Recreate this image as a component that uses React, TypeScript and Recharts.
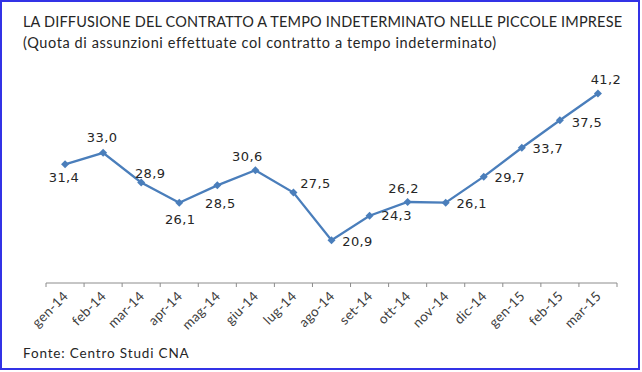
import { LineChart, Line, XAxis, YAxis, LabelList } from "recharts";

const months = [
  "gen-14", "feb-14", "mar-14", "apr-14", "mag-14", "giu-14", "lug-14", "ago-14",
  "set-14", "ott-14", "nov-14", "dic-14", "gen-15", "feb-15", "mar-15",
];
const quota = [31.4, 33.0, 28.9, 26.1, 28.5, 30.6, 27.5, 20.9, 24.3, 26.2, 26.1, 29.7, 33.7, 37.5, 41.2];

const title = "LA DIFFUSIONE DEL CONTRATTO A TEMPO INDETERMINATO NELLE PICCOLE IMPRESE";
const subtitle = "(Quota di assunzioni effettuate col contratto a tempo indeterminato)";
const source = "Fonte: Centro Studi CNA";

const data = months.map((m, i) => ({ month: m, quota: quota[i] }));

// label placement (text centre relative to the marker), as in the original
const labelShift: [number, number][] = [
  [-1, 13], [-1, -15], [9, -9], [1, 17], [3, 18], [-8, -14], [22, -9], [26, 1],
  [27, 0], [-4, -13], [26, 1], [26, 1], [26, 1], [27, 2], [8, -14],
];

const W = 642;
const H = 372;
const margin = { top: 66, right: 25, left: 46, bottom: 29 };
const X_AXIS_H = 60;
const AXIS_Y = H - margin.bottom - X_AXIS_H;
const STEP = (W - margin.left - margin.right) / months.length;

const BLUE = "#4a7ebb";
const calibri = "Lato, 'Open Sans', sans-serif";

function Diamond(props: any) {
  const { cx, cy } = props;
  if (cx == null || cy == null) return null;
  const r = 4;
  return <path d={`M${cx},${cy - r}L${cx + r},${cy}L${cx},${cy + r}L${cx - r},${cy}Z`} fill={BLUE} />;
}

function MonthTick(props: any) {
  const { x, index, payload } = props;
  const last = index === months.length - 1;
  const ax = x + 4;
  const ay = AXIS_Y + 14;
  return (
    <g>
      <line x1={x - STEP / 2} x2={x - STEP / 2} y1={AXIS_Y} y2={AXIS_Y + 4} stroke="#8c8c8c" />
      {last && <line x1={x + STEP / 2} x2={x + STEP / 2} y1={AXIS_Y} y2={AXIS_Y + 4} stroke="#8c8c8c" />}
      <text
        x={ax}
        y={ay}
        transform={`rotate(-45, ${ax}, ${ay})`}
        textAnchor="end"
        fontFamily={calibri}
        fontSize={13.5}
        letterSpacing={0.3}
        fill="#404040"
      >
        {payload.value}
      </text>
    </g>
  );
}

function ValueLabel(props: any) {
  const { x, y, value, index } = props;
  const [dx, dy] = labelShift[index] || [0, -12];
  return (
    <text
      x={x + dx}
      y={y + dy}
      textAnchor="middle"
      dominantBaseline="central"
      fontFamily="'DejaVu Sans', Verdana, sans-serif"
      fontSize={13}
      letterSpacing={0.4}
      fill="#262626"
    >
      {Number(value).toFixed(1).replace(".", ",")}
    </text>
  );
}

export default function App() {
  return (
    <div style={{ position: "absolute", left: 0, top: 0, width: W, height: H, background: "#fff" }}>
      <div
        style={{
          position: "absolute", left: 23, top: 11, fontFamily: calibri, fontSize: 14.5,
          color: "#262626", whiteSpace: "nowrap", lineHeight: "21px",
        }}
      >
        <div style={{ letterSpacing: 0.17 }}>{title}</div>
        <div style={{ letterSpacing: 0.6 }}>{subtitle}</div>
      </div>
      <div
        style={{
          position: "absolute", left: 23, top: 344, fontFamily: calibri, fontSize: 13.5,
          color: "#262626", whiteSpace: "nowrap", lineHeight: "18px", letterSpacing: 0.85,
        }}
      >
        {source}
      </div>
      <div style={{ position: "absolute", left: 0, top: 0 }}>
        <LineChart width={W} height={H} data={data} margin={margin}>
          <XAxis
            dataKey="month"
            height={X_AXIS_H}
            axisLine={{ stroke: "#8c8c8c" }}
            tickLine={false}
            interval={0}
            padding={{ left: STEP / 2, right: STEP / 2 }}
            tick={<MonthTick />}
          />
          <YAxis hide domain={[15, 45]} />
          <Line
            dataKey="quota"
            stroke={BLUE}
            strokeWidth={2.3}
            dot={<Diamond />}
            activeDot={false}
            isAnimationActive={false}
          >
            <LabelList dataKey="quota" content={<ValueLabel />} />
          </Line>
        </LineChart>
      </div>
      <div
        style={{
          position: "absolute", left: 0, top: 0, width: 640, height: 370, boxSizing: "border-box",
          border: "2px solid #3232e6", pointerEvents: "none",
        }}
      />
    </div>
  );
}
